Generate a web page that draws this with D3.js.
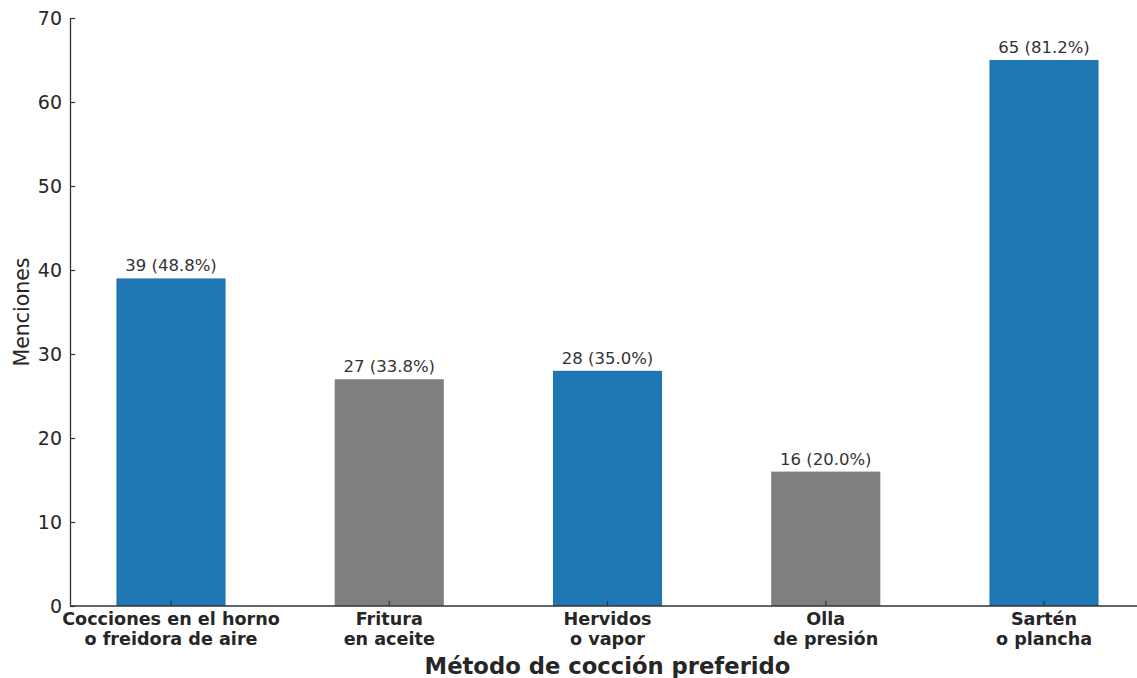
<!DOCTYPE html>
<html>
<head>
<meta charset="utf-8">
<script src="https://cdn.jsdelivr.net/npm/d3@7"></script>
<style>
  html, body { margin: 0; padding: 0; background: #fff; }
  svg { display: block; font-family: "DejaVu Sans", sans-serif; }
</style>
</head>
<body>
<svg id="chart" width="1137" height="678"></svg>
<script>
// Preferred cooking methods: mentions per method
const categories = [
  ["Cocciones en el horno", "o freidora de aire"],
  ["Fritura", "en aceite"],
  ["Hervidos", "o vapor"],
  ["Olla", "de presión"],
  ["Sartén", "o plancha"]
];
const mentions = [39, 27, 28, 16, 65];
const shares = [48.8, 33.8, 35.0, 20.0, 81.2];
const barColors = ["#1f77b4", "#7f7f7f", "#1f77b4", "#7f7f7f", "#1f77b4"];
const yTicks = [0, 10, 20, 30, 40, 50, 60, 70];

const svg = d3.select("#chart");
const axisColor = "#333333";

// y: 0..70 over the plot height
const y = d3.scaleLinear().domain([0, 70]).range([606, 18]);
// x: category index to bar centre, bars half a category wide
const x = d3.scaleLinear().domain([0, 4]).range([171, 1044]);
const unit = x(1) - x(0);
const barW = unit * 0.5;

// bars
svg.append("g").selectAll("rect")
  .data(mentions)
  .join("rect")
  .attr("x", (d, i) => x(i) - barW / 2)
  .attr("y", d => y(d))
  .attr("width", barW)
  .attr("height", d => y(0) - y(d))
  .attr("fill", (d, i) => barColors[i]);

// value labels
svg.append("g").selectAll("text")
  .data(mentions)
  .join("text")
  .attr("x", (d, i) => x(i))
  .attr("y", d => y(d) - 7)
  .attr("text-anchor", "middle")
  .attr("font-size", 16.5)
  .attr("fill", "#333")
  .text((d, i) => `${d} (${shares[i].toFixed(1)}%)`);

// y axis with inward ticks
const yAxis = svg.append("g")
  .attr("transform", "translate(70,0)")
  .call(d3.axisLeft(y).tickValues(yTicks).tickSize(-5).tickPadding(8).tickSizeOuter(0));
yAxis.select(".domain").attr("stroke", axisColor).attr("stroke-width", 1.3);
yAxis.selectAll(".tick line").attr("stroke", axisColor).attr("stroke-width", 1.2);
yAxis.selectAll(".tick text")
  .attr("font-size", 19).attr("fill", "#262626")
  .attr("font-family", "DejaVu Sans, sans-serif");

// x axis line
svg.append("line")
  .attr("x1", 70).attr("x2", 1137)
  .attr("y1", y(0)).attr("y2", y(0))
  .attr("stroke", axisColor).attr("stroke-width", 1.3);

// inward x ticks
svg.append("g").selectAll("line")
  .data(categories)
  .join("line")
  .attr("x1", (d, i) => x(i)).attr("x2", (d, i) => x(i))
  .attr("y1", y(0)).attr("y2", y(0) - 5)
  .attr("stroke", axisColor).attr("stroke-width", 1.2);

// category labels, two lines each
const catLabels = svg.append("g").selectAll("text")
  .data(categories)
  .join("text")
  .attr("text-anchor", "middle")
  .attr("font-size", 17.6)
  .attr("font-weight", "bold")
  .attr("fill", "#262626");
catLabels.each(function(lines, i) {
  const t = d3.select(this);
  lines.forEach((line, k) => {
    t.append("tspan")
      .attr("x", x(i))
      .attr("y", 625 + k * 19.5)
      .text(line);
  });
});

// axis titles
svg.append("text")
  .attr("x", x(2)).attr("y", 674)
  .attr("text-anchor", "middle")
  .attr("font-size", 22.7)
  .attr("font-weight", "bold")
  .attr("fill", "#262626")
  .text("Método de cocción preferido");

svg.append("text")
  .attr("transform", `translate(29,${y(35)}) rotate(-90)`)
  .attr("text-anchor", "middle")
  .attr("font-size", 20.5)
  .attr("fill", "#262626")
  .text("Menciones");
</script>
</body>
</html>
